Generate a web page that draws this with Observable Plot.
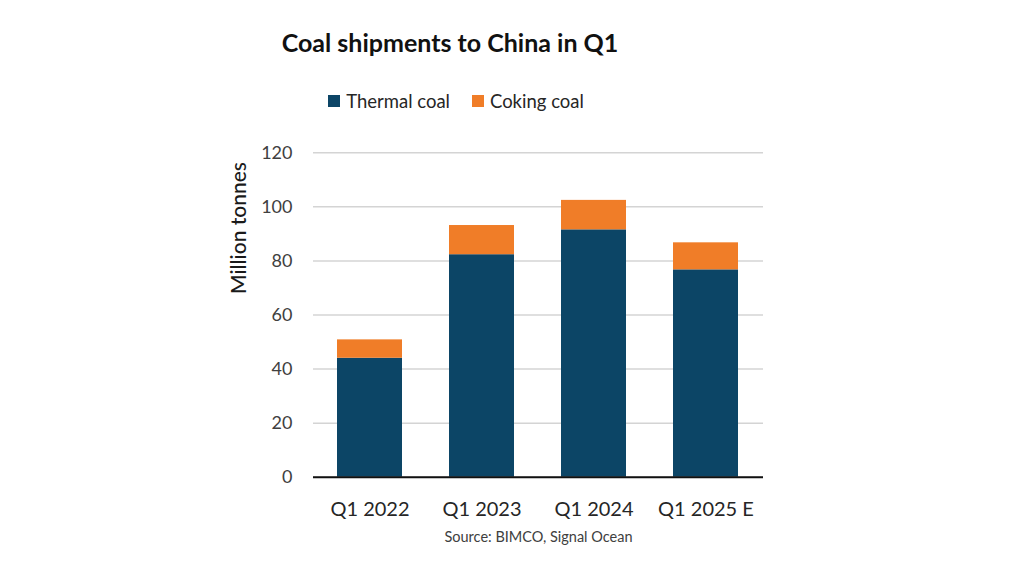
<!DOCTYPE html>
<html>
<head>
<meta charset="utf-8">
<script src="https://cdn.jsdelivr.net/npm/d3@7"></script>
<script src="https://cdn.jsdelivr.net/npm/@observablehq/plot@0.6"></script>
<style>
  html, body { margin: 0; padding: 0; background: #fff; }
  #wrap { position: relative; width: 1024px; height: 576px; overflow: hidden; font-family: Lato, "Open Sans", sans-serif; }
  #title { position: absolute; left: 0; width: 900px; top: 27px; text-align: center; font-size: 25px; font-weight: bold; color: #111; }
  #legend { position: absolute; left: 0; width: 912px; top: 89px; text-align: center; font-size: 18.5px; color: #262626; }
  #legend span.item { display: inline-flex; align-items: center; margin: 0 11px; }
  #legend span.sw { display: inline-block; width: 12px; height: 12px; margin-right: 6px; }
  #chart { position: absolute; left: 0; top: 130px; }
  #ylabel { position: absolute; left: 237px; top: 228px; transform: translate(-50%, -50%) rotate(-90deg); white-space: nowrap; font-size: 21px; color: #1a1a1a; font-weight: 500; }
  #source { position: absolute; left: 0; width: 1077px; top: 528px; text-align: center; font-size: 14.5px; color: #404040; }
</style>
</head>
<body>
<div id="wrap">
  <div id="title">Coal shipments to China in Q1</div>
  <div id="legend"></div>
  <div id="chart"></div>
  <div id="ylabel">Million tonnes</div>
  <div id="source">Source: BIMCO, Signal Ocean</div>
</div>
<script>
const categories = ["Q1 2022", "Q1 2023", "Q1 2024", "Q1 2025 E"];
const seriesNames = ["Thermal coal", "Coking coal"];
const thermal = [44.0, 82.3, 91.5, 76.7];
const coking = [6.8, 10.8, 10.9, 10.0];
const yTicks = [0, 20, 40, 60, 80, 100, 120];
const colors = ["#0C4566", "#F07D28"];

const rows = [];
categories.forEach((c, i) => {
  rows.push({cat: c, series: seriesNames[0], value: thermal[i]});
  rows.push({cat: c, series: seriesNames[1], value: coking[i]});
});

const legend = document.getElementById("legend");
seriesNames.forEach((s, i) => {
  const item = document.createElement("span");
  item.className = "item";
  const sw = document.createElement("span");
  sw.className = "sw";
  sw.style.background = colors[i];
  item.appendChild(sw);
  item.appendChild(document.createTextNode(s));
  legend.appendChild(item);
});

const chart = Plot.plot({
  width: 1024,
  height: 400,
  marginTop: 22.3,
  marginBottom: 53.3,
  marginLeft: 313,
  marginRight: 261,
  style: {fontFamily: "Lato, 'Open Sans', sans-serif", fontSize: "18px", color: "#404040", background: "transparent"},
  x: {domain: categories, paddingInner: 0.418, paddingOuter: 0.209, label: null},
  y: {domain: [0, 120], label: null},
  color: {domain: seriesNames, range: colors},
  marks: [
    Plot.gridY(yTicks, {stroke: "#d4d4d4", strokeOpacity: 1, strokeWidth: 1.5}),
    Plot.barY(rows, {x: "cat", y: "value", fill: "series"}),
    Plot.ruleY([0], {stroke: "#111", strokeWidth: 2}),
    Plot.axisY(yTicks, {tickSize: 0, tickPadding: 21, label: null, fontSize: 18, fill: "#404040"}),
    Plot.axisX({tickSize: 0, tickPadding: 25, label: null, fontSize: 20, fill: "#262626"})
  ]
});
document.getElementById("chart").appendChild(chart);
</script>
</body>
</html>
